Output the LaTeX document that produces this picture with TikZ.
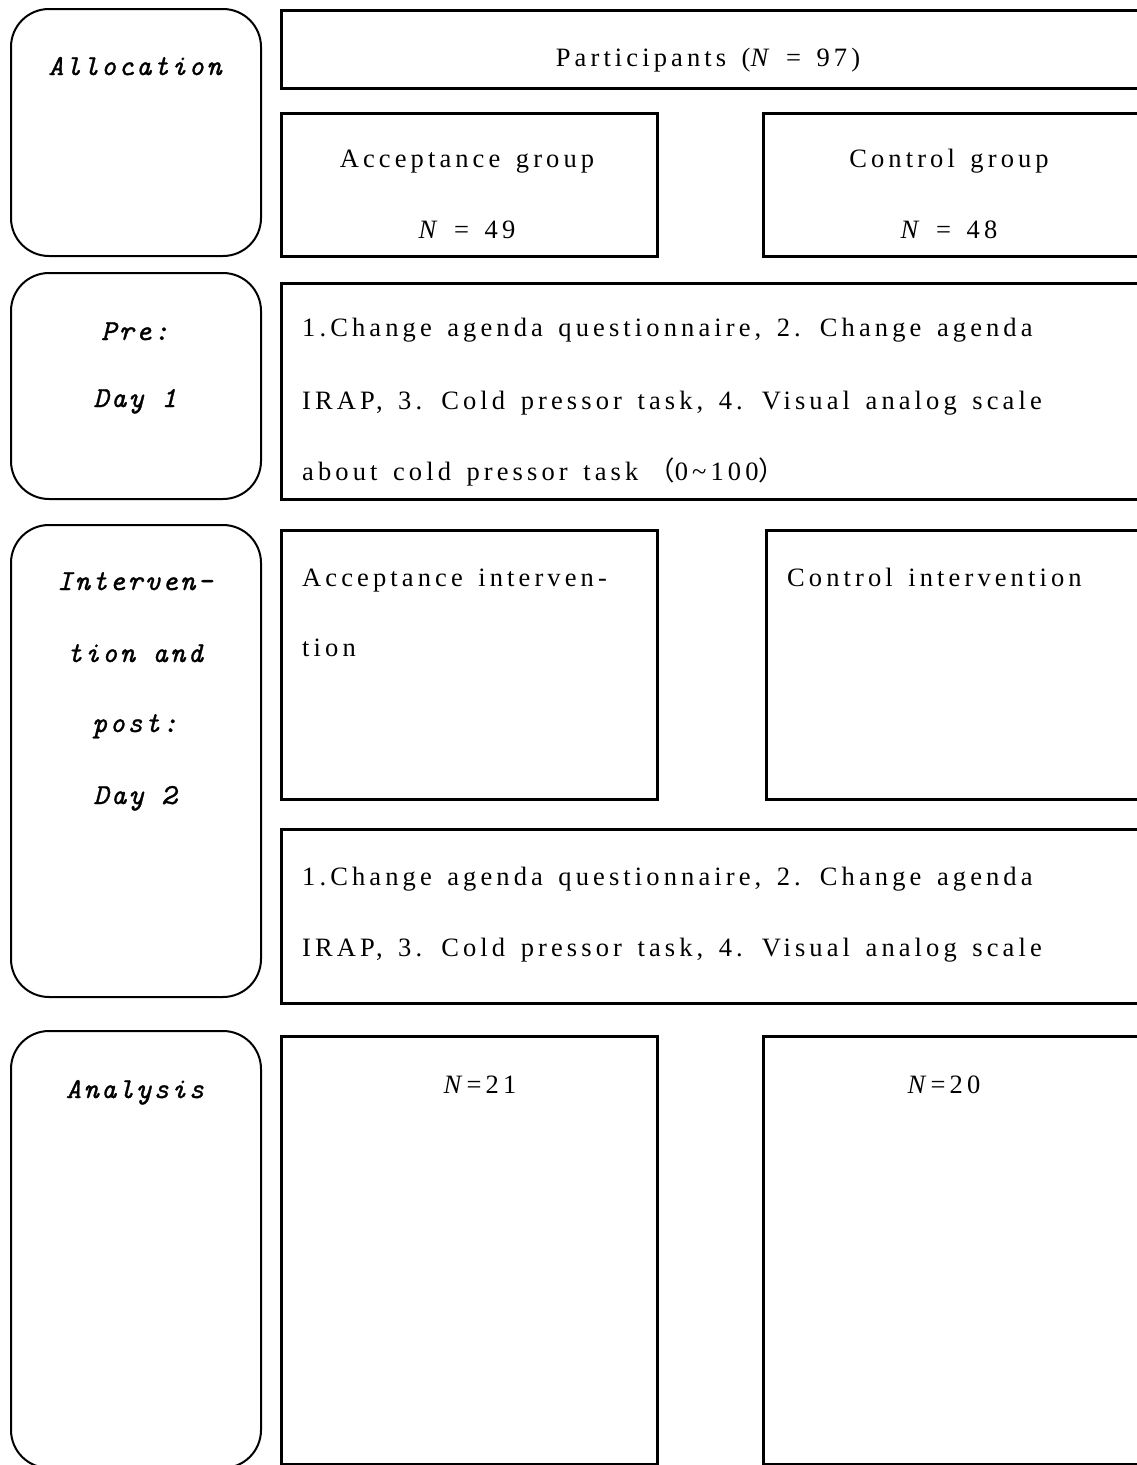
\documentclass[tikz,border=0pt]{standalone}
\usepackage{fontspec}
\setmainfont{Liberation Serif}[LetterSpace=15.5, WordSpace=1.45]
\newfontfamily\labelfont{lmmono10-italic.otf}[LetterSpace=8, FakeBold=1.1]
\newfontfamily\cjk{Noto Sans CJK SC}
\begin{document}
\begin{tikzpicture}[x={(1pt,0pt)}, y={(0pt,-1pt)},
  stage/.style={draw, line width=2pt, rounded corners=38pt, anchor=north west, inner sep=0pt},
  box/.style={draw, line width=3pt, anchor=north west, inner sep=0pt},
  txt/.style={font=\fontsize{26.5}{30}\selectfont, inner sep=0pt, anchor=base},
  txtl/.style={txt, anchor=base west},
  lbl/.style={font={\labelfont\fontsize{29}{30}\selectfont}, inner sep=0pt, anchor=base}]
\clip (0,0) rectangle (1137,1465);
\fill[white] (0,0) rectangle (1137,1465);

% stage labels on the left
\node[stage, minimum width=250pt, minimum height=247pt] (allocS) at (10,8) {};
\node[stage, minimum width=250pt, minimum height=226pt] (preS) at (10,272) {};
\node[stage, minimum width=250pt, minimum height=472pt] (intS) at (10,524) {};
\node[stage, minimum width=250pt, minimum height=437pt] (anaS) at (10,1030) {};

\node[lbl] (tAlloc) at (135,75) {Allocation};
\node[lbl] (tPre) at (135,340) {Pre:};
\node[lbl] (tDay1) at (135,407) {Day 1};
\node[lbl] (tInt1) at (135,590) {Interven-};
\node[lbl] (tInt2) at (135,662) {tion and};
\node[lbl] (tInt3) at (135,732) {post:};
\node[lbl] (tDay2) at (135,804) {Day 2};
\node[lbl] (tAna) at (135,1098) {Analysis};

% content boxes
\node[box, minimum width=900pt, minimum height=78pt] (partB) at (280,9) {};
\node[box, minimum width=376pt, minimum height=143pt] (accB) at (280,112) {};
\node[box, minimum width=420pt, minimum height=143pt] (conB) at (762,112) {};
\node[box, minimum width=900pt, minimum height=216pt] (preB) at (280,282) {};
\node[box, minimum width=376pt, minimum height=269pt] (accI) at (280,529) {};
\node[box, minimum width=420pt, minimum height=269pt] (conI) at (765,529) {};
\node[box, minimum width=900pt, minimum height=174pt] (postB) at (280,828) {};
\node[box, minimum width=376pt, minimum height=428pt] (accN) at (280,1035) {};
\node[box, minimum width=420pt, minimum height=428pt] (conN) at (762,1035) {};

% texts
\node[txt] (tPart) at (708,66) {Participants (\textit{N}\hspace{-3pt} = 97)};
\node[txt] (tAccG) at (467,167) {Acceptance group};
\node[txt] (tAccN) at (467,238) {\textit{N}\hspace{-3pt} = 49};
\node[txt] (tConG) at (949,167) {Control group};
\node[txt] (tConN) at (949,238) {\textit{N}\hspace{-3pt} = 48};

\node[txtl] (tPre1) at (302,336) {1.Change agenda questionnaire, 2. Change agenda};
\node[txtl] (tPre2) at (302,409) {IRAP, 3. Cold pressor task, 4. Visual analog scale};
\node[txtl] (tPre3) at (302,480) {about cold pressor task\hspace{10pt}{\cjk （}0\char`\~100{\cjk ）}};

\node[txtl] (tAccI1) at (302,586) {Acceptance interven-};
\node[txtl] (tAccI2) at (302,656) {tion};
\node[txtl] (tConI) at (787,586) {Control intervention};

\node[txtl] (tPost1) at (302,885) {1.Change agenda questionnaire, 2. Change agenda};
\node[txtl] (tPost2) at (302,956) {IRAP, 3. Cold pressor task, 4. Visual analog scale};

\node[txt] (tN21) at (480,1093) {\textit{N}=21};
\node[txt] (tN20) at (944,1093) {\textit{N}=20};
\end{tikzpicture}
\end{document}
